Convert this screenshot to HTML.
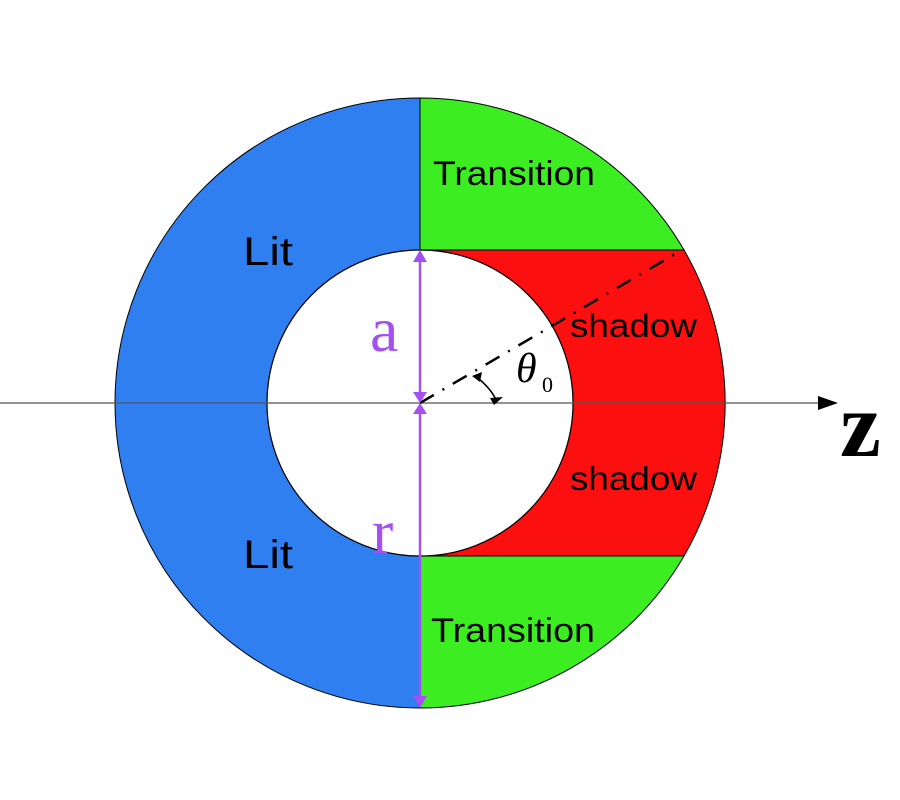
<!DOCTYPE html>
<html><head><style>body{margin:0;background:#fff}svg{display:block}</style></head>
<body>
<svg width="900" height="800" viewBox="0 0 900 800" xmlns="http://www.w3.org/2000/svg">
<path d="M420,98 A305,305 0 0 0 420,708 L420,556 A153,153 0 0 1 420,250 Z" fill="#2f7ff0" stroke="#000" stroke-width="1"/>
<path d="M420,98 A305,305 0 0 1 684,250 L420,250 Z" fill="#3ced22" stroke="#000" stroke-width="1"/>
<path d="M420,708 A305,305 0 0 0 684,556 L420,556 Z" fill="#3ced22" stroke="#000" stroke-width="1"/>
<path d="M420,250 L684,250 A305,305 0 0 1 684,556 L420,556 A153,153 0 0 0 420,250 Z" fill="#fb0f0f" stroke="#000" stroke-width="1"/>
<circle cx="420" cy="403" r="153" fill="#fff" stroke="#000" stroke-width="1.2"/>
<line x1="0" y1="403" x2="822" y2="403" stroke="#555" stroke-width="1.2"/>
<path d="M818,396 L838,403 L818,410 Z" fill="#000"/>
<line x1="420" y1="403" x2="682" y2="250" stroke="#000" stroke-width="2.5" stroke-dasharray="16,10,2,10"/>
<path d="M478,378 Q492,390 496,400" fill="none" stroke="#000" stroke-width="1.6"/>
<path d="M472,376 L482,372 L480,382 Z M490,398 L503,397 L494,405 Z" fill="#000"/>
<line x1="420" y1="258" x2="420" y2="395" stroke="#a550f0" stroke-width="2.5"/>
<path d="M413,262 L420,250 L427,262 Z M413,392 L420,403 L427,392 Z M413,414 L420,403 L427,414 Z M413,696 L420,708 L427,696 Z" fill="#a550f0"/>
<line x1="420" y1="411" x2="420" y2="700" stroke="#a550f0" stroke-width="2.5"/>
<g font-family="Liberation Sans, sans-serif" fill="#000">
<text x="433" y="185" font-size="34" textLength="162" lengthAdjust="spacingAndGlyphs">Transition</text>
<text x="431" y="642" font-size="34" textLength="164" lengthAdjust="spacingAndGlyphs">Transition</text>
<text x="243" y="265" font-size="40" textLength="50" lengthAdjust="spacingAndGlyphs">Lit</text>
<text x="243" y="568" font-size="40" textLength="50" lengthAdjust="spacingAndGlyphs">Lit</text>
<text x="570" y="337" font-size="33" textLength="127" lengthAdjust="spacingAndGlyphs">shadow</text>
<text x="570" y="490" font-size="33" textLength="127" lengthAdjust="spacingAndGlyphs">shadow</text>
</g>
<g font-family="Liberation Serif, serif" fill="#a550f0" font-size="64">
<text x="370" y="351">a</text>
<text x="372" y="553">r</text>
</g>
<text x="516" y="382" font-family="Liberation Serif, serif" font-style="italic" font-size="42">θ</text>
<text x="542" y="392" font-family="Liberation Serif, serif" font-size="22">0</text>
<text x="840" y="456" font-family="Liberation Serif, serif" font-weight="bold" font-size="92">z</text>
</svg>
</body></html>
